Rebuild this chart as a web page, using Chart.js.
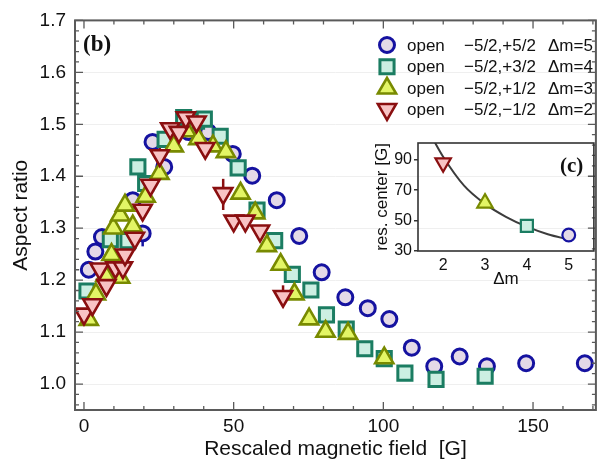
<!DOCTYPE html>
<html><head><meta charset="utf-8">
<script src="https://cdn.jsdelivr.net/npm/chart.js@4/dist/chart.umd.min.js"></script>
<style>
html,body{margin:0;padding:0;background:#fff;}
#wrap{position:relative;width:609px;height:471px;overflow:hidden;}
#main{position:absolute;left:0;top:0;}
#inset{position:absolute;left:370px;top:130px;}
</style></head><body>
<div id="wrap"><canvas id="main" width="609" height="471"></canvas><canvas id="inset" width="235" height="165"></canvas></div>
<script>
// ---------- data ----------
const dm5X=[1.6,3.8,6,16.3,19.6,22.9,26.8,35,41.5,49.7,56.2,64.4,71.9,79.4,87.3,94.8,102,109.5,117,125.5,134.6,147.7,167.3];
const dm5Y=[1.22,1.255,1.283,1.354,1.29,1.466,1.418,1.485,1.485,1.443,1.401,1.354,1.285,1.215,1.167,1.146,1.125,1.07,1.034,1.053,1.034,1.04,1.04];
const dm4X=[1,8.8,14.7,18,20.6,27.1,33.3,37.6,40.2,45.5,51.5,57.8,63.7,69.6,75.8,81,87.6,93.8,100.3,107.2,117.6,134];
const dm4Y=[1.179,1.278,1.276,1.418,1.386,1.471,1.513,1.506,1.51,1.477,1.416,1.335,1.276,1.211,1.181,1.133,1.106,1.068,1.049,1.021,1.009,1.015];
const dm3X=[1.6,4,7.2,9.2,12.1,9.8,12.1,13.7,16.3,20.6,25.2,30,34.3,38.2,43.1,47.4,52.3,57.2,61.1,65.7,70.3,75.2,80.7,88.2,100.3];
const dm3Y=[1.124,1.173,1.209,1.249,1.205,1.30,1.325,1.344,1.304,1.361,1.405,1.458,1.487,1.472,1.458,1.447,1.367,1.329,1.266,1.230,1.173,1.125,1.101,1.097,1.05];
const dm2X=[0,2.8,5.2,7.5,10.5,13,13.7,17,19.6,22.2,25.3,28.8,31.7,34,37.6,40.5,46.5,50,53.9,58.8,66.5];
const dm2Y=[1.135,1.153,1.222,1.19,1.224,1.224,1.249,1.281,1.335,1.383,1.44,1.492,1.485,1.513,1.505,1.454,1.367,1.314,1.314,1.295,1.169];
// error bars
const dm5ErrX=[19.6], dm5ErrLo=[1.265], dm5ErrHi=[1.29];
const dm2ErrX=[25.3,46.5,66.5], dm2ErrLo=[1.44,1.335,1.169], dm2ErrHi=[1.47,1.395,1.19];
// axes
const xTicks=[0,50,100,150];
const yTicks=[1.0,1.1,1.2,1.3,1.4,1.5,1.6,1.7];
// legend
const legState=['open','open','open','open'];
const legTrans=['\u22125/2,+5/2','\u22125/2,+3/2','\u22125/2,+1/2','\u22125/2,\u22121/2'];
const legDm=['\u0394m=5','\u0394m=4','\u0394m=3','\u0394m=2'];
// inset (c)
const insetDm=[2,3,4,5];
const insetCenter=[88,61.5,46.5,40.5];
const fitX=[1.75,2,2.5,3,3.5,4,4.5,5];
const fitY=[104,92,73,61,52.5,46,41,37.5];
const insetXTicks=[2,3,4,5];
const insetYTicks=[30,50,70,90];

// ---------- styles ----------
const SANS="'Liberation Sans', Arial, Helvetica, sans-serif";
const SERIF="'Liberation Serif', 'Times New Roman', serif";
const sty=[
 {pointStyle:'circle',radius:7.5,rotation:0,border:'#1512a0',fill:'#e4d9e7',bw:3},
 {pointStyle:'rect',radius:10,rotation:0,border:'#1b7d62',fill:'#ccefe2',bw:3},
 {pointStyle:'triangle',radius:10.5,rotation:0,border:'#788a00',fill:'#e3f565',bw:2.6},
 {pointStyle:'triangle',radius:10.5,rotation:180,border:'#8a0f10',fill:'#f8c3c4',bw:2.6}
];
const xs=[dm5X,dm4X,dm3X,dm2X], ys=[dm5Y,dm4Y,dm3Y,dm2Y];
function pts(X,Y){return X.map((x,i)=>({x:x,y:Y[i]}));}

const mainDatasets=sty.map((s,i)=>({
 data:pts(xs[i],ys[i]),
 pointStyle:s.pointStyle,pointRadius:s.radius,pointRotation:s.rotation,
 pointBorderColor:s.border,pointBackgroundColor:s.fill,pointBorderWidth:s.bw,
 pointHoverRadius:s.radius,showLine:false,order:4-i
}));

function drawMarker(ctx,s,x,y,scale){
 ctx.save();
 ctx.fillStyle=s.fill;ctx.strokeStyle=s.border;ctx.lineWidth=s.bw;
 Chart.helpers.drawPoint(ctx,{pointStyle:s.pointStyle,radius:s.radius*(scale||1),rotation:s.rotation,borderWidth:s.bw},x,y);
 ctx.restore();
}

const mainDeco={
 id:'mainDeco',
 beforeDatasetsDraw(chart){
  const ctx=chart.ctx,xsc=chart.scales.x,ysc=chart.scales.y;
  const sets=[[dm5ErrX,dm5ErrLo,dm5ErrHi,sty[0].border],[dm2ErrX,dm2ErrLo,dm2ErrHi,sty[3].border]];
  ctx.save();ctx.lineWidth=2.5;
  sets.forEach(([X,L,H,c])=>{
   ctx.strokeStyle=c;
   X.forEach((x,i)=>{const px=xsc.getPixelForValue(x);ctx.beginPath();ctx.moveTo(px,ysc.getPixelForValue(L[i]));ctx.lineTo(px,ysc.getPixelForValue(H[i]));ctx.stroke();});
  });
  ctx.restore();
 },
 afterDraw(chart){
  const ctx=chart.ctx,a=chart.chartArea,xsc=chart.scales.x,ysc=chart.scales.y;
  ctx.save();
  ctx.strokeStyle='#5a5a5a';ctx.lineWidth=2;
  ctx.strokeRect(a.left,a.top,a.right-a.left,a.bottom-a.top);
  ctx.lineWidth=1.3;ctx.beginPath();
  for(let v=0;v<=170;v+=10){
   const px=xsc.getPixelForValue(v);const L=(v%50===0)?8:4;
   ctx.moveTo(px,a.bottom);ctx.lineTo(px,a.bottom-L);
   ctx.moveTo(px,a.top);ctx.lineTo(px,a.top+L);
  }
  for(let k=48;k<=85;k++){
   const v=k*0.02;const py=ysc.getPixelForValue(v);if(py<a.top-0.5||py>a.bottom+0.5)continue;
   const L=(k%5===0)?8:4;
   ctx.moveTo(a.left,py);ctx.lineTo(a.left+L,py);
   ctx.moveTo(a.right,py);ctx.lineTo(a.right-L,py);
  }
  ctx.stroke();
  // panel label
  ctx.fillStyle='#111';ctx.font='bold 23px '+SERIF;ctx.textBaseline='alphabetic';ctx.textAlign='left';
  ctx.fillText('(b)',83,51);
  // legend
  ctx.font='17px '+SANS;ctx.textBaseline='middle';ctx.fillStyle='#111';
  const rows=[45,66.7,88.3,109.3];
  rows.forEach((ry,i)=>{
   drawMarker(ctx,sty[i],387,ry,1);
   ctx.fillStyle='#111';
   ctx.fillText(legState[i],407,ry+1);
   ctx.fillText(legTrans[i],464,ry+1);
   ctx.fillText(legDm[i],548,ry+1);
  });
  ctx.restore();
 }
};

new Chart(document.getElementById('main'),{
 type:'scatter',
 data:{datasets:mainDatasets},
 options:{
  responsive:false,animation:false,devicePixelRatio:1,
  layout:{padding:{top:15,right:2,left:0,bottom:0}},
  plugins:{legend:{display:false},tooltip:{enabled:false}},
  scales:{
   x:{type:'linear',min:-3,max:171,
    afterBuildTicks(s){s.ticks=xTicks.map(v=>({value:v}));},
    afterFit(s){s.height=61;},
    grid:{display:false,drawTicks:false},border:{display:false},
    ticks:{font:{size:19,family:SANS},color:'#111',padding:5,maxRotation:0,callback:v=>String(v)},
    title:{display:true,text:'Rescaled magnetic field  [G]',font:{size:21,family:SANS},color:'#111',padding:{top:0,bottom:9}}
   },
   y:{type:'linear',min:0.95,max:1.7,
    afterBuildTicks(s){s.ticks=yTicks.map(v=>({value:v}));},
    afterFit(s){s.width=75;},
    grid:{color:'#efefef',lineWidth:1,drawTicks:false},border:{display:false},
    ticks:{font:{size:19,family:SANS},color:'#111',padding:9,callback:v=>Number(v).toFixed(1)},
    title:{display:true,text:'Aspect ratio',font:{size:21,family:SANS},color:'#111',padding:{top:9,bottom:0}}
   }
  }
 },
 plugins:[mainDeco]
});

// ---------- inset ----------
const insetDatasets=[{
 data:pts(fitX,fitY),showLine:true,pointRadius:0,borderColor:'#3c3c3c',borderWidth:2,
 cubicInterpolationMode:'monotone',fill:false,order:5
}];
[3,2,1,0].forEach((si,k)=>{
 const s=sty[si];
 insetDatasets.push({data:[{x:insetDm[k],y:insetCenter[k]}],pointStyle:s.pointStyle,
  pointRadius:s.radius*0.85,pointRotation:s.rotation,pointBorderColor:s.border,pointBackgroundColor:s.fill,
  pointBorderWidth:2.2,showLine:false,order:1});
});
const insetDeco={
 id:'insetDeco',
 afterDraw(chart){
  const ctx=chart.ctx,a=chart.chartArea;
  ctx.save();ctx.strokeStyle='#333';ctx.lineWidth=1.6;
  ctx.strokeRect(a.left,a.top,a.right-a.left,a.bottom-a.top);
  ctx.fillStyle='#111';ctx.font='bold 21px '+SERIF;ctx.textAlign='left';ctx.textBaseline='alphabetic';
  ctx.fillText('(c)',190,42);
  ctx.restore();
 }
};
new Chart(document.getElementById('inset'),{
 type:'scatter',
 data:{datasets:insetDatasets},
 options:{
  responsive:false,animation:false,devicePixelRatio:1,
  layout:{padding:{top:13,right:7,left:0,bottom:0}},
  plugins:{legend:{display:false},tooltip:{enabled:false}},
  scales:{
   x:{type:'linear',min:1.4,max:5.6,
    afterBuildTicks(s){s.ticks=insetXTicks.map(v=>({value:v}));},
    afterFit(s){s.height=44;},
    grid:{display:false,drawTicks:false},border:{display:false},
    ticks:{font:{size:16,family:SANS},color:'#111',padding:5,maxRotation:0},
    title:{display:true,text:'\u0394m',font:{size:17,family:SANS},color:'#111',padding:{top:0,bottom:5}}
   },
   y:{type:'linear',min:30,max:101,
    afterBuildTicks(s){s.ticks=insetYTicks.map(v=>({value:v}));},
    afterFit(s){s.width=48;},
    grid:{drawOnChartArea:false,drawTicks:true,tickLength:4,color:'#333',lineWidth:1.5},border:{display:false},
    ticks:{font:{size:16,family:SANS},color:'#111',padding:2},
    title:{display:true,text:'res. center [G]',font:{size:17,family:SANS},color:'#111',padding:{top:2,bottom:0}}
   }
  }
 },
 plugins:[insetDeco]
});
</script>
</body></html>
